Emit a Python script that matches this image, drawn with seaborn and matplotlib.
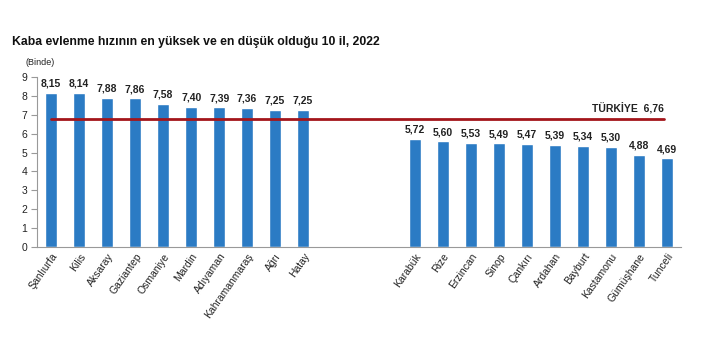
import matplotlib
matplotlib.use("Agg")
import matplotlib.pyplot as plt
import seaborn as sns
import numpy as np
import pandas as pd

top_provinces = ["Şanlıurfa", "Kilis", "Aksaray", "Gaziantep", "Osmaniye", "Mardin",
                 "Adıyaman", "Kahramanmaraş", "Ağrı", "Hatay"]
top_values = [8.15, 8.14, 7.88, 7.86, 7.58, 7.40, 7.39, 7.36, 7.25, 7.25]
bottom_provinces = ["Karabük", "Rize", "Erzincan", "Sinop", "Çankırı", "Ardahan",
                    "Bayburt", "Kastamonu", "Gümüşhane", "Tunceli"]
bottom_values = [5.72, 5.60, 5.53, 5.49, 5.47, 5.39, 5.34, 5.30, 4.88, 4.69]
turkiye_value = 6.76
title = "Kaba evlenme hızının en yüksek ve en düşük olduğu 10 il, 2022"
unit = "(Binde)"
yticks = list(range(0, 10))

sns.set_theme(style="white")
plt.rcParams['font.family'] = ['Liberation Sans', 'DejaVu Sans']

gaps = [" ", "  ", "   "]
order = top_provinces + gaps + bottom_provinces
df = pd.DataFrame({"il": top_provinces + bottom_provinces,
                   "deger": top_values + bottom_values})

fig = plt.figure(figsize=(7.02, 3.51), dpi=100)
ax = fig.add_axes([0.053, 0.296, 0.917, 0.485])
bar_color = "#2B7BC4"
sns.barplot(data=df, x="il", y="deger", order=order, color=bar_color,
            width=0.43, ax=ax, saturation=1)

n = len(order)
ax.set_xlim(-0.5, n - 0.5)
ax.set_ylim(0, 9)
ax.set_yticks(yticks)
ax.set_yticklabels([str(t) for t in yticks], fontsize=7.5, color="#222222")
ax.set_xlabel("")
ax.set_ylabel("")

labels = [o if o.strip() else "" for o in order]
ax.set_xticks(range(n))
ax.set_xticklabels(labels, rotation=55, ha="right", rotation_mode="anchor",
                   fontsize=7.5, color="#222222")
ax.tick_params(axis="x", which="major", length=0, pad=3)
ax.set_xticks(np.arange(-0.5, n, 1), minor=True)
ax.tick_params(axis="x", which="minor", length=4, color="#999999", width=0.8)
ax.tick_params(axis="y", which="major", length=4, color="#999999", width=0.8, pad=3, left=True)

for s in ["top", "right"]:
    ax.spines[s].set_visible(False)
for s in ["left", "bottom"]:
    ax.spines[s].set_color("#999999")
    ax.spines[s].set_linewidth(0.8)

# value labels
for cont in ax.containers:
    ax.bar_label(cont, labels=[("%.2f" % v.get_height()).replace(".", ",") if v.get_height() > 0 else "" for v in cont],
                 padding=3, fontsize=7.5, fontweight="bold", color="#222222")

# Türkiye line
ax.plot([0, n - 1.1], [turkiye_value, turkiye_value], color="#A3151B", lw=2, zorder=5)
ax.text(n - 1.1, turkiye_value + 0.25, "TÜRKİYE  " + ("%.2f" % turkiye_value).replace(".", ","),
        ha="right", va="bottom", fontsize=7.5, fontweight="bold", color="#222222")

fig.text(0.017, 0.872, title, fontsize=8.8, fontweight="bold", color="#111111")
fig.text(0.036, 0.815, unit, fontsize=6.5, color="#222222")

fig.savefig("out.png", dpi=100)
